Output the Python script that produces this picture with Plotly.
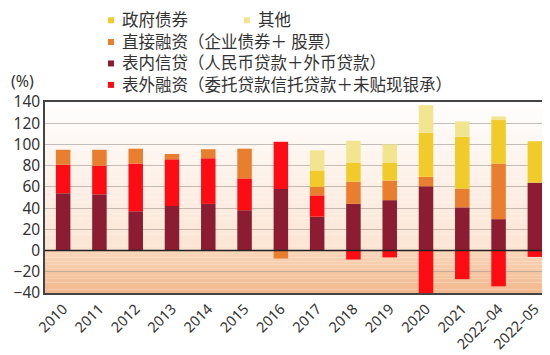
import plotly.graph_objects as go

categories = ["2010", "2011", "2012", "2013", "2014", "2015", "2016", "2017",
              "2018", "2019", "2020", "2021", "2022–04", "2022–05"]
loans      = [54, 53, 37, 42, 44, 38, 58, 32, 44, 47.5, 60.5, 40.7, 29.6, 64]
off_bal    = [27, 27, 45, 44, 43, 30, 44.5, 20, -8.5, -6.5, -43, -27, -33.7, -6]
direct     = [14, 15, 14, 5, 8.5, 28, -7.5, 8, 21, 18.5, 9, 17.7, 52.4, 0]
gov_bonds  = [0, 0, 0, 0, 0, 0, 0, 15.5, 17.5, 17, 41.5, 49, 41, 39]
others     = [0, 0, 0, 0, 0, 0, 0, 19, 21, 17, 26, 14.3, 3.4, 0]
y_ticks    = [140, 120, 100, 80, 60, 40, 20, 0, -20, -40]

names = {
    "gov": "政府债券",
    "other": "其他",
    "direct": "直接融资（企业债券＋ 股票）",
    "loan": "表内信贷（人民币贷款＋外币贷款）",
    "off": "表外融资（委托贷款信托贷款＋未贴现银承）",
}
colors = {
    "gov": "#f0cb2a",
    "other": "#f1e68f",
    "direct": "#ea7e2f",
    "loan": "#8c1c32",
    "off": "#fd0c14",
}

FONT = "Noto Sans, Noto Sans CJK SC, sans-serif"
W, H = 550, 355
ML, MR, MT, MB = 37, 5, 94, 70
PW, PH = W - ML - MR, H - MT - MB
LEG_SIZE = 16.5
LINE = LEG_SIZE * 1.3

def px(x):
    return (x - ML) / PW

def py(y):
    return (H - MB - y) / PH

fig = go.Figure()
series = [("loan", loans), ("off", off_bal), ("direct", direct),
          ("gov", gov_bonds), ("other", others)]
for key, vals in series:
    fig.add_bar(x=categories, y=vals, name=names[key], marker_color=colors[key],
                marker_line_width=0, showlegend=False)

# background gradient bands
shapes = []
n = 28
top_c = (255, 255, 255)
bot_c = (252, 229, 212)
for i in range(n):
    y0 = 140 * i / n
    y1 = 140 * (i + 1) / n
    t = 1 - (i + 0.5) / n
    c = tuple(int(top_c[k] + (bot_c[k] - top_c[k]) * t) for k in range(3))
    shapes.append(dict(type="rect", xref="paper", yref="y", x0=0, x1=1, y0=y0, y1=y1,
                       fillcolor="rgb(%d,%d,%d)" % c, line_width=0, layer="below"))
n2 = 12
lt = (250, 216, 188)
lb = (242, 184, 140)
for i in range(n2):
    y1 = -40 * i / n2
    y0 = -40 * (i + 1) / n2
    t = (i + 0.5) / n2
    c = tuple(int(lt[k] + (lb[k] - lt[k]) * t) for k in range(3))
    shapes.append(dict(type="rect", xref="paper", yref="y", x0=0, x1=1, y0=y0, y1=y1,
                       fillcolor="rgb(%d,%d,%d)" % c, line_width=0, layer="below"))
# zero line
shapes.append(dict(type="line", xref="paper", yref="y", x0=0, x1=1, y0=0, y1=0,
                   line=dict(color="#222222", width=1.5), layer="above"))

annotations = []
legend_font = dict(family=FONT, size=LEG_SIZE, color="#333333")

def add_square(key, sx, sy):
    shapes.append(dict(type="rect", xref="paper", yref="paper",
                       x0=px(sx - 3), x1=px(sx + 3), y0=py(sy + 3.5), y1=py(sy - 2.5),
                       fillcolor=colors[key], line_width=0, layer="above"))

# first legend row: two items side by side
row1_y = 11.8
for key, sx in [("gov", 103), ("other", 239)]:
    add_square(key, sx, row1_y)
    annotations.append(dict(text=names[key], xref="paper", yref="paper",
                            x=px(sx + 10), y=py(row1_y), xanchor="left", yanchor="middle",
                            showarrow=False, borderpad=0, font=legend_font))

# remaining legend rows: one block of lines
block_keys = ["direct", "loan", "off"]
first_y = 33.5
for i, key in enumerate(block_keys):
    add_square(key, 103, first_y + i * LINE)
annotations.append(dict(text="<br>".join(names[k] for k in block_keys),
                        xref="paper", yref="paper", x=px(113), y=py(first_y + LINE),
                        xanchor="left", yanchor="middle", align="left",
                        showarrow=False, borderpad=0, font=legend_font))

annotations.append(dict(text="(%)", xref="paper", yref="paper", x=px(1), y=py(73),
                        xanchor="left", yanchor="middle", showarrow=False,
                        font=dict(family=FONT, size=16, color="#333333")))

fig.update_layout(
    width=W, height=H,
    margin=dict(l=ML, r=MR, t=MT, b=MB, autoexpand=False),
    barmode="relative",
    bargap=0.6,
    paper_bgcolor="white",
    plot_bgcolor="rgba(0,0,0,0)",
    font=dict(family=FONT, size=15, color="#333333"),
    shapes=shapes,
    annotations=annotations,
    showlegend=False,
)
fig.update_xaxes(tickangle=-45, showline=True, linecolor="#444444", linewidth=1.5,
                 mirror=True, ticks="", tickfont=dict(size=14.5), showgrid=False,
                 automargin=False)
fig.update_yaxes(range=[-40, 140], tickvals=y_ticks,
                 ticktext=[str(v).replace("-", "−") for v in y_ticks],
                 showline=True, linecolor="#444444", linewidth=1.5, mirror=True,
                 showgrid=True, gridcolor="rgba(150,140,135,0.55)", gridwidth=1,
                 zeroline=False, ticks="", tickfont=dict(size=15.5), automargin=False)

fig.write_html("out.html")
